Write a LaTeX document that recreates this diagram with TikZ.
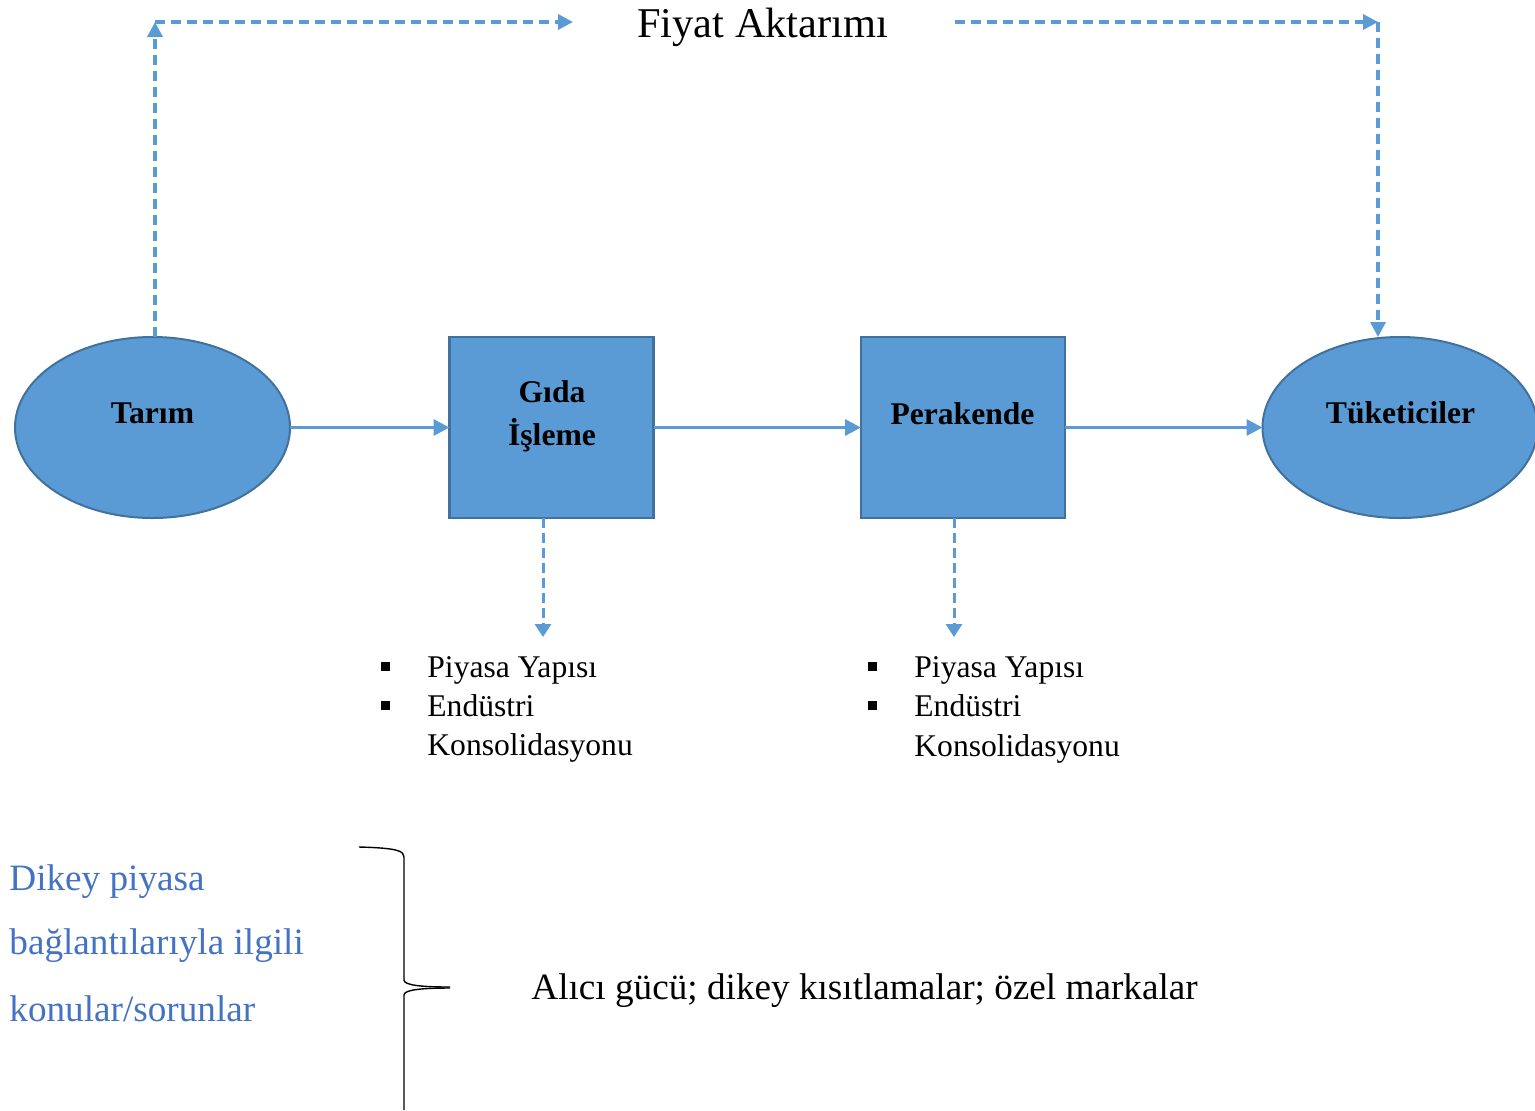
\documentclass[tikz,border=0pt]{standalone}
\usepackage{fontspec}
\setmainfont{Liberation Serif}
\usetikzlibrary{arrows.meta,shapes.geometric}
\definecolor{boxfill}{HTML}{5B9BD5}
\definecolor{boxline}{HTML}{41719C}
\definecolor{notecol}{HTML}{4472C4}
\begin{document}
\begin{tikzpicture}[x=0.5pt,y=-0.5pt,
  stage/.style={draw=boxline, fill=boxfill, inner sep=0pt, outer sep=0pt},
  roundstage/.style={stage, ellipse, line width=1pt, minimum width=137.5pt, minimum height=90.5pt},
  squarestage/.style={stage, rectangle, line width=1.2pt, minimum width=102pt, minimum height=90.5pt},
  stagetext/.style={font=\fontsize{15.8}{19}\selectfont\bfseries, inner sep=0pt, anchor=base},
  flow/.style={draw=boxfill, line width=1.6pt, -{Triangle[length=8pt,width=8pt]}},
  priceflow/.style={draw=boxfill, line width=1.75pt, dash pattern=on 5pt off 3pt, -{Triangle[length=7.5pt,width=7.5pt]}},
  noteflow/.style={draw=boxfill, line width=1.5pt, dash pattern=on 5pt off 2.5pt, -{Triangle[length=6.5pt,width=8pt]}},
  listtext/.style={font=\fontsize{15.8}{19}\selectfont, inner sep=0pt, anchor=base west},
  issuetext/.style={font=\fontsize{18.6}{22}\selectfont, inner sep=0pt, anchor=base west},
  bullet/.style={fill=black}
]
\useasboundingbox (0,0) rectangle (1535,1110);

% supply chain stages
\node[roundstage]  (tarim)     at (152.5,427.5) {};
\node[squarestage] (gida)      at (551.5,427.5) {};
\node[squarestage] (perakende) at (963,427.5) {};
\node[roundstage]  (tuketici)  at (1400,427.5) {};

\node[stagetext] (tarimtxt)     at (152.5,423) {Tarım};
\node[stagetext] (gidatxtA)     at (552,402) {Gıda};
\node[stagetext] (gidatxtB)     at (552,445) {İşleme};
\node[stagetext] (perakendetxt) at (962.5,424) {Perakende};
\node[stagetext] (tuketicitxt)  at (1400.5,423) {Tüketiciler};

% flow between stages
\draw[flow] (tarim.east) -- (gida.west);
\draw[flow] (gida.east) -- (perakende.west);
\draw[flow] (perakende.east) -- (tuketici.west);

% price transmission loop
\node[inner sep=0pt, anchor=base west, font=\fontsize{21.2}{25}\selectfont] (fiyat) at (637,37) {Fiyat Aktarımı};
\coordinate (tl) at (155,22);
\coordinate (tr) at (1378,22);
\draw[priceflow] ([xshift=1.25pt]tarim.north) -- (tl);
\draw[priceflow, shorten >=32pt] (tl) -- (tl -| fiyat.west);
\draw[priceflow, shorten <=33pt] (tr -| fiyat.east) -- (tr);
\draw[priceflow] (tr) -- (tr |- tuketici.north);

% market structure notes
\coordinate (gidanote) at (543,637);
\coordinate (perakendenote) at (954,637);
\draw[noteflow] ([xshift=-4.25pt]gida.south) -- (gidanote);
\draw[noteflow] ([xshift=-4.5pt]perakende.south) -- (perakendenote);

\fill[bullet] (381,662) rectangle (390,671);
\fill[bullet] (381,701) rectangle (390,710);
\node[listtext] (gidaA) at (427,677) {Piyasa Yapısı};
\node[listtext] (gidaB) at (427,716) {Endüstri};
\node[listtext] (gidaC) at (427,755) {Konsolidasyonu};

\fill[bullet] (868,662) rectangle (877,671);
\fill[bullet] (868,701) rectangle (877,710);
\node[listtext] (perakendeA) at (914,677) {Piyasa Yapısı};
\node[listtext] (perakendeB) at (914,716) {Endüstri};
\node[listtext] (perakendeC) at (914,756) {Konsolidasyonu};

% vertical market issues
\node[issuetext, text=notecol] (issueA) at (9,890) {Dikey piyasa};
\node[issuetext, text=notecol] (issueB) at (9,954) {bağlantılarıyla ilgili};
\node[issuetext, text=notecol] (issueC) at (9,1021) {konular/sorunlar};

\draw[line width=0.7pt] (359,847) .. controls (398,848) and (404,851) .. (404,857)
  -- (404,980) .. controls (404,985) and (420,987) .. (450,987);
\draw[line width=0.7pt] (450,988) .. controls (420,988) and (404,990) .. (404,995) -- (404,1110);

\node[issuetext] (issues) at (531,999) {Alıcı gücü; dikey kısıtlamalar; özel markalar};
\end{tikzpicture}
\end{document}
